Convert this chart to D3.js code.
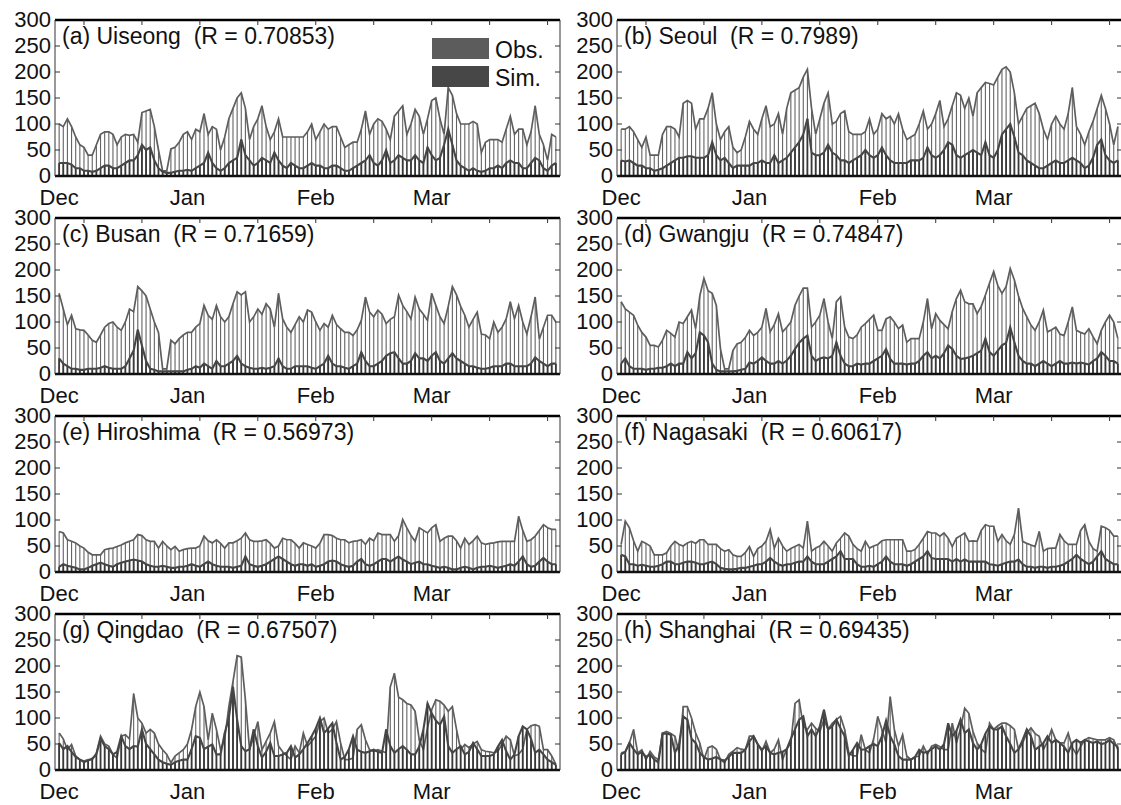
<!DOCTYPE html>
<html lang="en">
<head>
  <meta charset="UTF-8">
  <title>Obs. vs Sim. daily series</title>
  <script src="https://d3js.org/d3.v7.min.js"></script>
  <style>
    body { margin: 0; background: #fff; }
    text { font-family: "Liberation Sans", Arial, sans-serif; fill: #111; }
    .ylab { font-size: 22px; }
    .mlab { font-size: 22px; }
    .title { font-size: 23px; white-space: pre; }
    .leg { font-size: 23px; }
    .obs-bar { stroke: #636363; stroke-width: 1.1; }
    .obs-line { fill: none; stroke: #5e5e5e; stroke-width: 1.7; }
    .sim-bar { stroke: #383838; stroke-width: 1.8; }
    .sim-line { fill: none; stroke: #464646; stroke-width: 2.1; }
  </style>
</head>
<body>
<div id="chart"></div>
<script>
  // Dec 1 .. Mar 31, one value per day
  const monthLabels = ["Dec", "Jan", "Feb", "Mar"];
  const monthStarts = [0, 31, 62, 90];
  const topTicks = [6, 20, 34, 48, 62, 76, 90, 104, 118];
  const yTicks = [0, 50, 100, 150, 200, 250, 300];

  const stationNames = ["(a) Uiseong", "(b) Seoul", "(c) Busan", "(d) Gwangju",
                        "(e) Hiroshima", "(f) Nagasaki", "(g) Qingdao", "(h) Shanghai"];
  const rValues = ["0.70853", "0.7989", "0.71659", "0.74847", "0.56973", "0.60617", "0.67507", "0.69435"];

  const obsUiseong = [100, 95, 110, 95, 75, 60, 55, 40, 40, 60,
    80, 85, 85, 80, 60, 75, 80, 78, 80, 65,
    122, 125, 128, 95, 50, 10, 10, 52, 55, 65,
    80, 85, 70, 90, 85, 120, 80, 95, 90, 50,
    75, 110, 130, 150, 160, 130, 70, 95, 110, 135,
    95, 70, 85, 110, 75, 75, 75, 75, 75, 75,
    85, 100, 70, 85, 100, 90, 95, 95, 75, 55,
    60, 65, 65, 90, 125, 80, 100, 110, 105, 90,
    70, 115, 125, 135, 80, 100, 128, 115, 80, 110,
    145, 150, 110, 80, 170, 155, 120, 100, 100, 100,
    105, 100, 45, 65, 70, 70, 70, 65, 90, 115,
    80, 90, 90, 60, 85, 135, 80, 60, 30, 80, 75];
  const simUiseong = [25, 25, 25, 22, 15, 15, 10, 10, 8, 10,
    15, 20, 20, 15, 15, 20, 25, 30, 30, 40,
    60, 50, 55, 30, 15, 8, 6, 6, 8, 10,
    10, 12, 10, 15, 20, 25, 45, 25, 15, 10,
    15, 25, 30, 35, 70, 40, 30, 20, 25, 35,
    30, 25, 45, 30, 20, 15, 25, 20, 15, 15,
    20, 25, 20, 20, 15, 15, 20, 20, 15, 10,
    10, 15, 20, 25, 30, 40, 25, 20, 30, 50,
    25, 30, 40, 35, 30, 30, 40, 30, 25, 55,
    40, 30, 35, 60, 90, 60, 30, 20, 15, 10,
    15, 10, 8, 10, 15, 15, 20, 15, 25, 30, 25,
    25, 15, 15, 25, 35, 30, 15, 10, 20, 25];

  const obsSeoul = [90, 90, 95, 85, 70, 55, 75, 40, 40, 40,
    80, 95, 95, 90, 75, 140, 145, 140, 90, 110,
    110, 130, 160, 100, 70, 85, 95, 55, 45, 50,
    75, 105, 90, 80, 110, 135, 95, 100, 120, 80,
    130, 160, 165, 170, 190, 205, 130, 80, 110, 140,
    160, 100, 105, 120, 125, 85, 80, 80, 80, 85,
    110, 80, 90, 120, 110, 115, 100, 120, 90, 70,
    75, 80, 100, 125, 90, 100, 120, 145, 95, 110,
    135, 160, 155, 130, 150, 115, 160, 170, 180, 178,
    175, 190, 205, 210, 200, 160, 100, 115, 130, 135,
    140, 120, 90, 70, 100, 115, 100, 90, 120, 170, 95,
    80, 60, 85, 105, 130, 155, 130, 100, 60, 95];
  const simSeoul = [30, 28, 30, 25, 20, 20, 15, 15, 10, 12,
    15, 20, 25, 30, 35, 35, 38, 38, 35, 35,
    35, 40, 65, 40, 30, 35, 25, 15, 20, 20,
    20, 20, 25, 25, 30, 25, 25, 40, 25, 30,
    35, 45, 55, 65, 80, 110, 45, 40, 40, 45,
    60, 45, 40, 30, 30, 25, 30, 35, 40, 50,
    40, 35, 40, 55, 40, 30, 25, 25, 25, 25,
    30, 30, 30, 35, 55, 40, 35, 40, 50, 65,
    60, 40, 35, 40, 45, 50, 45, 40, 65, 40,
    35, 50, 80, 90, 100, 75, 45, 40, 30, 25,
    20, 15, 15, 20, 25, 30, 25, 25, 30, 35, 30,
    25, 15, 20, 35, 60, 70, 40, 30, 25, 30];

  const obsBusan = [155, 125, 95, 113, 87, 85, 84, 75, 65, 61,
    75, 90, 97, 100, 90, 84, 100, 125, 120, 168,
    160, 150, 125, 100, 80, 10, 10, 65, 58, 68,
    75, 80, 80, 90, 97, 132, 113, 105, 132, 110,
    100, 110, 135, 158, 152, 158, 100, 110, 125, 115,
    135, 125, 90, 155, 106, 90, 80, 95, 110, 100,
    123, 119, 100, 84, 97, 90, 113, 95, 87, 80,
    80, 74, 85, 103, 148, 119, 110, 123, 115, 97,
    105, 110, 152, 132, 120, 106, 148, 125, 115, 103,
    155, 132, 110, 97, 130, 168, 152, 130, 113, 90,
    105, 119, 77, 75, 68, 100, 80, 90, 106, 139, 106,
    132, 100, 77, 110, 148, 67, 90, 113, 113, 100];
  const simBusan = [30, 20, 15, 10, 10, 8, 8, 10, 10, 10,
    12, 15, 12, 10, 10, 10, 15, 30, 45, 85,
    55, 25, 10, 8, 5, 5, 5, 5, 5, 5,
    5, 8, 10, 15, 12, 20, 15, 10, 25, 15,
    15, 20, 25, 35, 20, 15, 12, 10, 10, 12,
    10, 12, 15, 30, 15, 10, 10, 15, 15, 15,
    15, 12, 10, 15, 20, 35, 20, 15, 15, 12,
    10, 15, 20, 42, 25, 15, 15, 20, 25, 35,
    40, 42, 30, 20, 20, 25, 40, 30, 30, 25,
    35, 42, 25, 20, 30, 40, 30, 25, 20, 15,
    15, 12, 10, 10, 12, 15, 15, 15, 20, 20, 15,
    15, 15, 15, 20, 32, 25, 20, 15, 20, 20];

  const obsGwangju = [139, 125, 119, 113, 94, 80, 71, 55, 55, 52,
    65, 84, 78, 71, 100, 97, 110, 123, 87, 150,
    184, 160, 155, 132, 48, 10, 10, 45, 58, 61,
    70, 84, 74, 80, 90, 126, 81, 95, 116, 81,
    90, 100, 132, 150, 165, 165, 90, 100, 113, 145,
    100, 68, 139, 148, 90, 71, 68, 75, 90, 97,
    105, 113, 84, 84, 106, 110, 100, 87, 94, 61,
    68, 68, 68, 100, 145, 87, 116, 103, 95, 87,
    120, 145, 161, 139, 135, 135, 116, 130, 152, 175,
    197, 170, 155, 168, 203, 181, 150, 126, 110, 94,
    84, 100, 123, 81, 85, 90, 77, 74, 100, 129, 84,
    80, 77, 87, 72, 58, 84, 100, 113, 100, 68];
  const simGwangju = [20, 30, 15, 10, 10, 10, 8, 10, 10, 12,
    12, 15, 20, 15, 20, 20, 42, 30, 40, 80,
    74, 61, 20, 8, 5, 5, 5, 5, 6, 8,
    10, 22, 20, 25, 32, 25, 20, 20, 25, 20,
    26, 35, 48, 60, 68, 74, 35, 25, 30, 32,
    30, 35, 61, 35, 20, 15, 15, 20, 18, 20,
    20, 25, 30, 35, 48, 29, 20, 20, 20, 18,
    20, 20, 25, 35, 42, 30, 35, 30, 40, 55,
    48, 35, 29, 30, 32, 35, 40, 45, 68, 42,
    35, 45, 55, 60, 90, 61, 35, 25, 20, 20,
    15, 20, 25, 20, 15, 20, 25, 20, 20, 22, 20,
    22, 20, 18, 25, 30, 42, 35, 25, 25, 20];

  const obsHiroshima = [78, 75, 62, 59, 56, 50, 46, 38, 33, 33,
    33, 43, 45, 46, 49, 52, 56, 59, 62, 72,
    70, 62, 59, 59, 46, 59, 50, 43, 49, 40,
    43, 45, 46, 46, 50, 69, 60, 56, 62, 55,
    46, 56, 56, 60, 65, 75, 62, 59, 59, 60,
    62, 55, 46, 50, 65, 62, 62, 55, 46, 56,
    53, 50, 46, 55, 72, 72, 70, 65, 62, 62,
    56, 59, 60, 62, 53, 65, 60, 75, 72, 72,
    72, 59, 70, 101, 85, 70, 59, 85, 80, 75,
    85, 91, 59, 65, 69, 69, 60, 46, 65, 53,
    60, 69, 56, 53, 55, 56, 58, 59, 59, 59, 59,
    107, 80, 59, 62, 69, 80, 91, 85, 82, 82];
  const simHiroshima = [10, 15, 12, 10, 8, 5, 5, 8, 12, 15,
    18, 15, 12, 10, 15, 18, 20, 22, 24, 22,
    20, 15, 12, 10, 10, 12, 10, 8, 8, 10,
    10, 12, 15, 12, 10, 15, 20, 15, 12, 10,
    10, 10, 8, 10, 12, 30, 15, 12, 10, 12,
    15, 20, 25, 30, 25, 20, 15, 12, 15, 15,
    12, 15, 10, 12, 15, 20, 22, 20, 15, 12,
    10, 12, 20, 25, 15, 12, 15, 20, 25, 25,
    20, 25, 30, 24, 20, 15, 18, 20, 15, 15,
    12, 10, 8, 10, 8, 5, 5, 8, 10, 8,
    5, 8, 10, 10, 12, 10, 8, 10, 12, 15, 12,
    20, 30, 15, 10, 12, 20, 27, 20, 15, 15];

  const obsNagasaki = [53, 98, 85, 60, 40, 59, 55, 50, 33, 33,
    33, 37, 50, 59, 53, 50, 56, 59, 55, 62,
    62, 53, 53, 53, 45, 40, 43, 33, 30, 30,
    37, 49, 30, 45, 50, 59, 82, 46, 65, 50,
    40, 45, 49, 53, 46, 98, 40, 46, 50, 59,
    50, 40, 56, 65, 75, 69, 53, 45, 40, 59,
    46, 50, 53, 60, 62, 62, 62, 62, 62, 40,
    40, 43, 53, 65, 78, 75, 75, 69, 75, 65,
    49, 65, 70, 75, 59, 60, 59, 80, 91, 88,
    88, 59, 72, 60, 53, 72, 123, 59, 55, 52,
    49, 78, 40, 45, 46, 46, 72, 60, 53, 53, 53,
    80, 91, 59, 45, 40, 88, 85, 80, 69, 69];
  const simNagasaki = [33, 30, 15, 15, 12, 14, 12, 10, 10, 12,
    15, 20, 20, 15, 15, 18, 20, 20, 18, 15,
    15, 18, 20, 15, 8, 6, 5, 5, 6, 8,
    8, 10, 12, 15, 15, 20, 27, 20, 15, 12,
    15, 15, 18, 20, 20, 30, 20, 15, 15, 15,
    20, 25, 30, 40, 25, 25, 25, 15, 10, 10,
    12, 10, 15, 20, 30, 20, 15, 15, 15, 12,
    15, 20, 25, 30, 40, 27, 25, 25, 25, 25,
    20, 25, 20, 24, 20, 20, 20, 20, 20, 15,
    14, 12, 15, 18, 20, 20, 24, 15, 10, 10,
    8, 10, 10, 8, 10, 10, 12, 15, 20, 25, 33,
    25, 20, 15, 20, 30, 40, 25, 20, 15, 15];

  const obsQingdao = [71, 60, 39, 49, 27, 20, 17, 20, 20, 33,
    65, 50, 46, 30, 23, 65, 68, 60, 147, 100,
    90, 71, 78, 71, 50, 39, 30, 14, 27, 33,
    39, 50, 78, 122, 150, 122, 58, 109, 78, 39,
    60, 122, 170, 220, 217, 135, 39, 65, 93, 39,
    55, 71, 93, 46, 35, 27, 20, 46, 33, 71,
    46, 55, 65, 93, 100, 71, 78, 93, 52, 20,
    20, 23, 78, 87, 58, 39, 36, 39, 36, 33,
    160, 186, 140, 135, 128, 125, 113, 58, 39, 81,
    116, 135, 132, 125, 113, 122, 78, 39, 49, 43,
    50, 55, 39, 36, 35, 33, 36, 50, 65, 58, 27,
    30, 40, 78, 85, 87, 84, 39, 39, 27, 11];
  const simQingdao = [52, 40, 46, 35, 25, 20, 15, 18, 22, 30,
    60, 46, 40, 30, 35, 65, 46, 40, 46, 45,
    78, 50, 40, 30, 20, 15, 12, 10, 15, 18,
    20, 20, 40, 65, 62, 40, 45, 49, 30, 30,
    71, 100, 160, 97, 46, 36, 40, 78, 46, 24,
    35, 52, 27, 27, 30, 33, 46, 24, 30, 40,
    52, 65, 80, 100, 71, 80, 90, 52, 20, 25,
    40, 65, 39, 35, 33, 36, 39, 35, 33, 78,
    46, 33, 40, 46, 39, 30, 30, 45, 78, 128,
    109, 95, 87, 103, 46, 33, 40, 46, 30, 35,
    52, 40, 27, 27, 27, 30, 45, 58, 36, 20, 30,
    65, 84, 78, 60, 33, 39, 30, 20, 15, 10];

  const obsShanghai = [33, 35, 52, 78, 33, 39, 20, 36, 25, 20,
    71, 74, 70, 65, 33, 122, 122, 100, 71, 52,
    20, 43, 46, 40, 20, 14, 30, 36, 43, 40,
    39, 65, 65, 50, 36, 55, 33, 40, 58, 20,
    40, 52, 128, 135, 84, 78, 90, 80, 74, 97,
    78, 90, 97, 103, 78, 33, 27, 27, 68, 39,
    33, 60, 103, 78, 52, 141, 78, 46, 68, 27,
    20, 25, 27, 46, 30, 46, 49, 45, 39, 39,
    90, 52, 80, 119, 109, 74, 52, 40, 33, 90,
    78, 85, 90, 90, 85, 78, 39, 52, 71, 81,
    70, 65, 39, 55, 78, 58, 52, 52, 71, 43, 30,
    45, 58, 62, 60, 58, 58, 58, 62, 58, 39];
  const simShanghai = [30, 35, 52, 40, 30, 35, 25, 30, 20, 15,
    70, 70, 68, 33, 50, 103, 97, 60, 52, 33,
    25, 20, 22, 25, 20, 18, 25, 33, 33, 33,
    39, 55, 65, 49, 39, 46, 33, 30, 33, 35,
    40, 60, 78, 97, 103, 65, 78, 65, 84, 116,
    78, 84, 97, 80, 65, 27, 39, 52, 39, 40,
    46, 50, 46, 65, 95, 65, 49, 27, 20, 20,
    20, 25, 39, 33, 35, 40, 46, 39, 50, 90,
    65, 75, 97, 71, 78, 52, 39, 50, 70, 84,
    78, 78, 84, 65, 50, 33, 40, 58, 78, 65,
    39, 45, 52, 65, 52, 58, 52, 45, 33, 52, 58,
    52, 58, 55, 52, 55, 50, 52, 58, 50, 45];

  const obsSeries = [obsUiseong, obsSeoul, obsBusan, obsGwangju, obsHiroshima, obsNagasaki, obsQingdao, obsShanghai];
  const simSeries = [simUiseong, simSeoul, simBusan, simGwangju, simHiroshima, simNagasaki, simQingdao, simShanghai];

  // layout
  const W = 1121, H = 805;
  const panelW = 505, panelH = 156;
  const colX = [55, 617];
  const rowY = [20, 218, 416, 614];

  const svg = d3.select("#chart").append("svg")
    .attr("width", W)
    .attr("height", H);

  svg.append("rect").attr("width", W).attr("height", H).attr("fill", "#fff");

  const x = d3.scaleLinear().domain([-1, 121]).range([0, panelW]);
  const y = d3.scaleLinear().domain([0, 300]).range([panelH, 0]);

  function drawPanel(k) {
    const g = svg.append("g")
      .attr("transform", "translate(" + colX[k % 2] + "," + rowY[Math.floor(k / 2)] + ")");
    const obs = obsSeries[k], sim = simSeries[k];

    // obs bars + outline
    g.selectAll(".obs-bar").data(obs).enter().append("line")
      .attr("class", "obs-bar")
      .attr("x1", (d, i) => x(i)).attr("x2", (d, i) => x(i))
      .attr("y1", y(0)).attr("y2", d => y(d));
    g.append("path").attr("class", "obs-line")
      .attr("d", d3.line().x((d, i) => x(i)).y(d => y(d))(obs));

    // sim bars + outline
    g.selectAll(".sim-bar").data(sim).enter().append("line")
      .attr("class", "sim-bar")
      .attr("x1", (d, i) => x(i)).attr("x2", (d, i) => x(i))
      .attr("y1", y(0)).attr("y2", d => y(d));
    g.append("path").attr("class", "sim-line")
      .attr("d", d3.line().x((d, i) => x(i)).y(d => y(d))(sim));

    // box
    g.append("line").attr("x1", 0).attr("x2", panelW).attr("y1", 0).attr("y2", 0)
      .attr("stroke", "#000").attr("stroke-width", 2.6);
    g.append("line").attr("x1", 0).attr("x2", panelW).attr("y1", panelH).attr("y2", panelH)
      .attr("stroke", "#111").attr("stroke-width", 2.4);
    g.append("line").attr("x1", 0).attr("x2", 0).attr("y1", 0).attr("y2", panelH)
      .attr("stroke", "#333").attr("stroke-width", 1);
    g.append("line").attr("x1", panelW).attr("x2", panelW).attr("y1", 0).attr("y2", panelH)
      .attr("stroke", "#333").attr("stroke-width", 1);

    // inner ticks: left, right, top
    yTicks.slice(1, -1).forEach(t => {
      g.append("line").attr("x1", 0).attr("x2", 5).attr("y1", y(t)).attr("y2", y(t))
        .attr("stroke", "#333");
      g.append("line").attr("x1", panelW - 5).attr("x2", panelW).attr("y1", y(t)).attr("y2", y(t))
        .attr("stroke", "#333");
    });
    topTicks.forEach(t => {
      g.append("line").attr("x1", x(t)).attr("x2", x(t)).attr("y1", 0).attr("y2", 5)
        .attr("stroke", "#333");
    });

    // y labels
    g.selectAll(".ylab").data(yTicks).enter().append("text")
      .attr("class", "ylab")
      .attr("x", -4).attr("y", d => y(d))
      .attr("dy", "0.3em")
      .attr("text-anchor", "end")
      .text(d => d);

    // month labels
    g.selectAll(".mlab").data(monthStarts).enter().append("text")
      .attr("class", "mlab")
      .attr("x", d => x(d)).attr("y", panelH + 29)
      .attr("text-anchor", "middle")
      .text((d, i) => monthLabels[i]);

    // title
    g.append("text").attr("class", "title")
      .attr("x", 7).attr("y", 24)
      .text(stationNames[k] + "  (R = " + rValues[k] + ")");
  }

  d3.range(8).forEach(drawPanel);

  // legend in panel (a)
  const leg = svg.append("g").attr("transform", "translate(" + colX[0] + "," + rowY[0] + ")");
  const legItems = [{ name: "Obs.", color: "#5c5c5c" }, { name: "Sim.", color: "#474747" }];
  legItems.forEach((d, i) => {
    leg.append("rect")
      .attr("x", 377).attr("y", 18 + i * 28)
      .attr("width", 57).attr("height", 21)
      .attr("fill", d.color);
    leg.append("text").attr("class", "leg")
      .attr("x", 440).attr("y", 38 + i * 28)
      .text(d.name);
  });
</script>
</body>
</html>
